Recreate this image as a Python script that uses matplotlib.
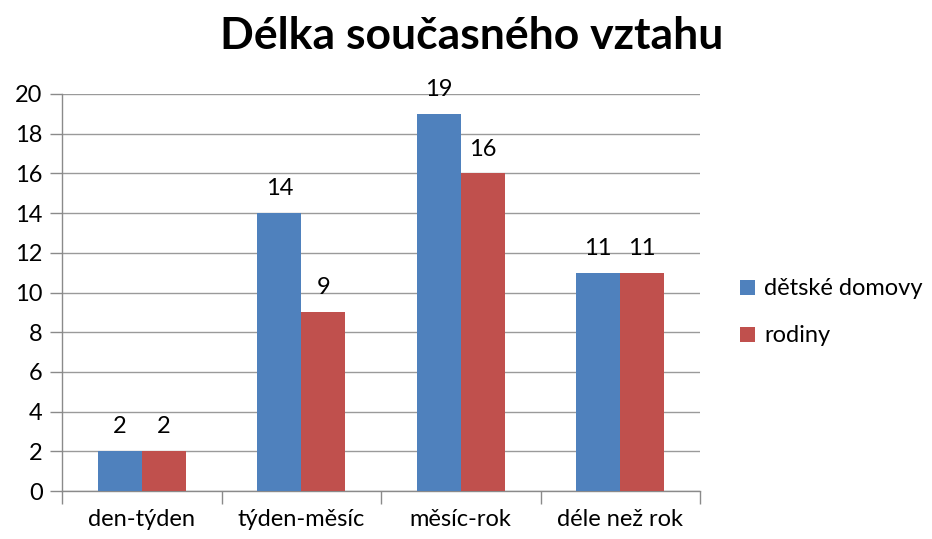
import matplotlib
matplotlib.use("Agg")
import matplotlib.pyplot as plt
import numpy as np

categories = ["den-týden", "týden-měsíc", "měsíc-rok", "déle než rok"]
series_names = ["dětské domovy", "rodiny"]
detske_domovy = [2, 14, 19, 11]
rodiny = [2, 9, 16, 11]
yticks = [0, 2, 4, 6, 8, 10, 12, 14, 16, 18, 20]

plt.rcParams['font.family'] = ['Lato', 'DejaVu Sans']

fig = plt.figure(figsize=(9.32, 5.39), dpi=100)
ax = fig.add_axes([62/932, 1-491/539, 638/932, 397/539])

x = np.arange(len(categories))
w = 0.276
colors = ["#4F81BD", "#C0504D"]
b1 = ax.bar(x - w/2, detske_domovy, w, color=colors[0], label=series_names[0], zorder=3)
b2 = ax.bar(x + w/2, rodiny, w, color=colors[1], label=series_names[1], zorder=3)

for bars, vals in ((b1, detske_domovy), (b2, rodiny)):
    for rect, v in zip(bars, vals):
        ax.annotate(str(v), (rect.get_x() + rect.get_width()/2, v),
                    xytext=(0, 10), textcoords="offset points",
                    ha="center", va="bottom", fontsize=17, color="#000000")

ax.set_xlim(-0.5, len(categories) - 0.5)
ax.set_ylim(0, 20)
ax.set_yticks(yticks)
ax.set_yticklabels([str(t) for t in yticks], fontsize=17)
ax.yaxis.grid(True, color="#9a9a9a", linewidth=1, zorder=0)
ax.set_axisbelow(True)

ax.set_xticks(x)
ax.set_xticklabels(categories, fontsize=17)
ax.tick_params(axis='x', length=0, pad=13)
ax.set_xticks(np.arange(len(categories) + 1) - 0.5, minor=True)
ax.tick_params(axis='x', which='minor', length=9, color="#8a8a8a", width=1)
ax.tick_params(axis='y', length=9, color="#8a8a8a", width=1, pad=5)

for s in ("top", "right"):
    ax.spines[s].set_visible(False)
for s in ("left", "bottom"):
    ax.spines[s].set_color("#8a8a8a")
    ax.spines[s].set_linewidth(1)

fig.suptitle("Délka současného vztahu", x=472/932, y=1-36/539, va="center",
             fontsize=32, fontweight="bold")

leg = ax.legend(loc="center left", bbox_to_anchor=(1.03, 0.45), frameon=False,
                fontsize=17, handlelength=0.6, handleheight=0.6, handletextpad=0.4,
                labelspacing=1.1)

fig.savefig("out.png", dpi=100)
